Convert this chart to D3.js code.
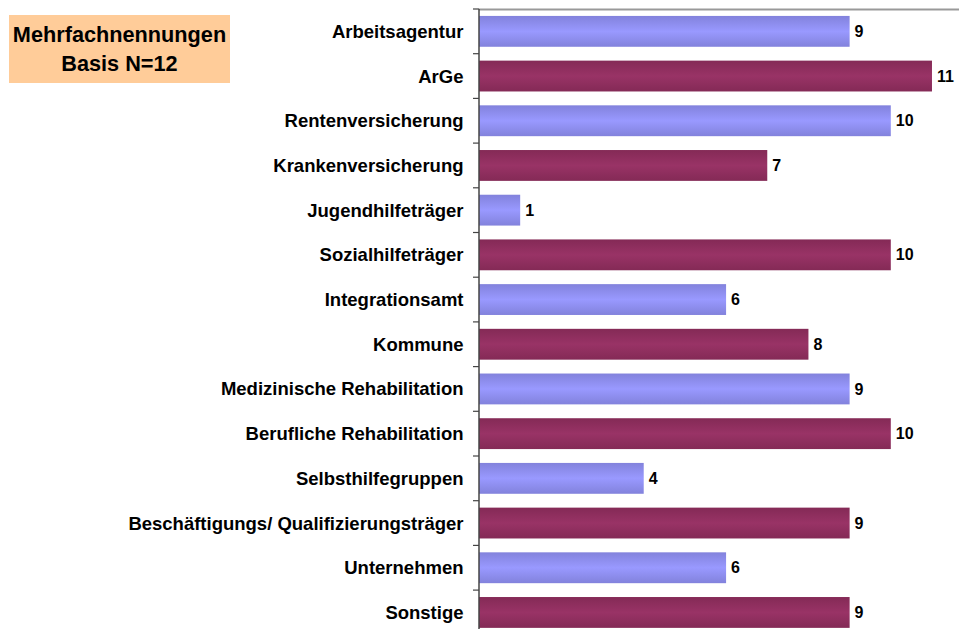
<!DOCTYPE html>
<html><head><meta charset="utf-8">
<script src="https://cdn.jsdelivr.net/npm/d3@7"></script>
<style>body{margin:0;background:#fff}svg{display:block}</style>
</head><body>
<script>
const categories = ["Arbeitsagentur","ArGe","Rentenversicherung","Krankenversicherung","Jugendhilfeträger","Sozialhilfeträger","Integrationsamt","Kommune","Medizinische Rehabilitation","Berufliche Rehabilitation","Selbsthilfegruppen","Beschäftigungs/ Qualifizierungsträger","Unternehmen","Sonstige"];
const values = [9,11,10,7,1,10,6,8,9,10,4,9,6,9];
const boxLines = ["Mehrfachnennungen","Basis N=12"];

(function(){
const W=959,H=629;
const FONT="'Liberation Sans', Arial, sans-serif";
const svg=d3.select("body").append("svg").attr("width",W).attr("height",H);
const defs=svg.append("defs");
function grad(id,edge,mid){
  const g=defs.append("linearGradient").attr("id",id).attr("x1",0).attr("y1",0).attr("x2",0).attr("y2",1);
  g.append("stop").attr("offset","0%").attr("stop-color",edge);
  g.append("stop").attr("offset","50%").attr("stop-color",mid);
  g.append("stop").attr("offset","100%").attr("stop-color",edge);
}
grad("gb","#8282DC","#9999FF");
grad("gp","#842A56","#993366");

const x0=479, y0=9, step=44.7;
const x=d3.scaleLinear().domain([0,11]).range([x0,x0+11*41.18]);
const y=d3.scaleBand().domain(categories).range([y0,y0+step*categories.length]).paddingInner(0.31).paddingOuter(0.155);

svg.append("line").attr("x1",x0).attr("x2",W).attr("y1",y0+0.5).attr("y2",y0+0.5).attr("stroke","#999").attr("stroke-width",2);

svg.selectAll("rect.bar").data(categories).join("rect").attr("class","bar")
  .attr("x",x(0)).attr("y",d=>y(d)).attr("height",y.bandwidth())
  .attr("width",(d,i)=>x(values[i])-x(0))
  .attr("fill",(d,i)=>i%2===0?"url(#gb)":"url(#gp)");

svg.selectAll("text.val").data(categories).join("text").attr("class","val")
  .attr("x",(d,i)=>x(values[i])+5).attr("y",d=>y(d)+y.bandwidth()/2)
  .attr("dy","0.35em").attr("font-family",FONT)
  .attr("font-weight","bold").attr("font-size",16).text((d,i)=>values[i]);

svg.append("line").attr("x1",x0).attr("x2",x0).attr("y1",y0).attr("y2",H).attr("stroke","#444").attr("stroke-width",1.5);
const bounds=d3.range(categories.length+1).map(i=>y0+i*step);
svg.selectAll("line.tick").data(bounds).join("line").attr("class","tick")
  .attr("x1",x0-6).attr("x2",x0).attr("y1",d=>d).attr("y2",d=>d).attr("stroke","#444").attr("stroke-width",1.2);
svg.selectAll("text.cat").data(categories).join("text").attr("class","cat")
  .attr("x",463.5).attr("y",d=>y(d)+y.bandwidth()/2).attr("dy","0.35em")
  .attr("text-anchor","end").attr("font-family",FONT)
  .attr("font-weight","bold").attr("font-size",18.5).attr("fill","#000").text(d=>d);

svg.append("rect").attr("x",9).attr("y",15).attr("width",221).attr("height",68).attr("fill","#FFCC99");
svg.selectAll("text.box").data(boxLines).join("text").attr("class","box")
  .attr("x",119.5).attr("y",(d,i)=>41.5+i*29).attr("text-anchor","middle")
  .attr("font-family",FONT).attr("font-weight","bold")
  .attr("font-size",21.7).text(d=>d);
})();
</script>
</body></html>
